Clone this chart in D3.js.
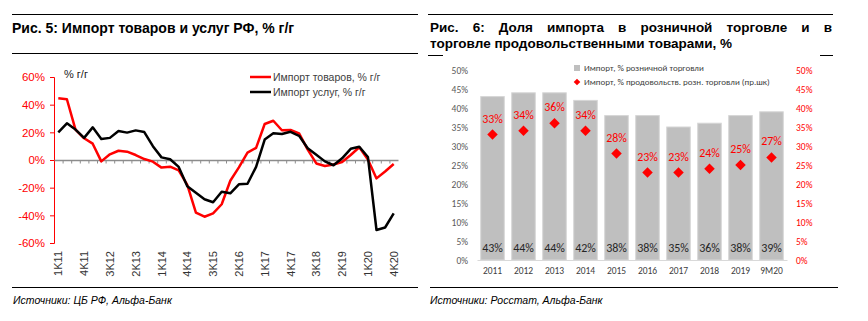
<!DOCTYPE html>
<html><head><meta charset="utf-8">
<script src="https://cdn.jsdelivr.net/npm/d3@7"></script>
<style>body{margin:0;background:#fff}svg{display:block}</style>
</head><body>
<svg id="c" width="868" height="321"></svg>
<script>
// ---- Left chart data ----
const quarters = ["1K11","2K11","3K11","4K11","1K12","2K12","3K12","4K12","1K13","2K13","3K13","4K13",
 "1K14","2K14","3K14","4K14","1K15","2K15","3K15","4K15","1K16","2K16","3K16","4K16",
 "1K17","2K17","3K17","4K17","1K18","2K18","3K18","4K18","1K19","2K19","3K19","4K19",
 "1K20","2K20","3K20","4K20"];
const shownQuarterLabels = ["1K11","4K11","3K12","2K13","1K14","4K14","3K15","2K16","1K17","4K17","3K18","2K19","1K20","4K20"];
const goodsImport = [44.6,43.9,22,15.7,11.8,-1,4.1,6.7,6.0,3.6,0.7,-1.2,-5.5,-4.8,-7.5,-18,-38,-41,-38.6,-32,
 -15,-5.3,5.3,8.8,26,28.4,21.5,21.7,19.3,7.5,-2.5,-4.3,-3.2,-1.5,3.6,9.2,0.3,-13.3,-8.3,-2.9];
const servicesImport = [20,26.5,22,16,23.6,15.2,16,21,19.8,21.4,20.2,10,1.9,0.5,-5,-19,-23.6,-28.4,-30.5,-23,
 -24.1,-17.6,-17.2,-5,14.8,19.3,18.8,20.4,17.5,8.5,3.8,-1,-3.8,1.2,8.1,9.6,2.2,-50.6,-48.8,-38.6];
const leftTicks = [-60,-40,-20,0,20,40,60];
const leftSeriesNames = ["Импорт товаров, % г/г","Импорт услуг, % г/г"];

// ---- Right chart data ----
const years = ["2011","2012","2013","2014","2015","2016","2017","2018","2019","9M20"];
const retailShare = [43,44,44,42,38,38,35,36,38,39];
const foodShare = [33,34,36,34,28,23,23,24,25,27];
const rightTicks = [0,5,10,15,20,25,30,35,40,45,50];
const rightSeriesNames = ["Импорт, % розничной торговли","Импорт, % продовольств. розн. торговли (пр.шк)"];

const svg = d3.select("#c");
svg.append("rect").attr("width",868).attr("height",321).attr("fill","#fff");

const narrow = "'Liberation Sans Narrow','Arial Narrow','Liberation Sans',Arial,sans-serif";
const arial = "'Liberation Sans',Arial,sans-serif";
const calib = "Carlito,Calibri,Lato,'Open Sans',sans-serif";

// ---- Headers ----
function hline(x1,x2,y){svg.append("line").attr("x1",x1).attr("x2",x2).attr("y1",y).attr("y2",y).attr("stroke","#000").attr("stroke-width",1);}
hline(12,418,14.5); hline(12,418,53.5);
hline(428,833,14.5); hline(428,443,55.5); hline(820,833,55.5);
hline(12,418,287.5); hline(430,838,287.5);

svg.append("text").attr("x",12).attr("y",33).attr("font-family",arial).attr("font-weight","bold")
  .attr("font-size",14).attr("fill","#000").text("Рис. 5: Импорт товаров и услуг РФ, % г/г");

// justified line 1 of right title
(function(){
  const words = "Рис. 6: Доля импорта в розничной торговле и в".split(" ");
  const x0 = 430, x1 = 832, y = 32;
  const nodes = words.map(w => svg.append("text").attr("y",y).attr("font-family",arial)
     .attr("font-weight","bold").attr("font-size",13.5).attr("fill","#000").text(w));
  const widths = nodes.map(n => n.node().getComputedTextLength());
  const gap = (x1 - x0 - d3.sum(widths)) / (words.length - 1);
  let x = x0;
  nodes.forEach((n,i) => { n.attr("x", x); x += widths[i] + gap; });
})();
svg.append("text").attr("x",430).attr("y",47.5).attr("font-family",arial).attr("font-weight","bold")
  .attr("font-size",13.5).attr("fill","#000").text("торговле продовольственными товарами, %");

svg.append("text").attr("x",13).attr("y",304).attr("font-family",arial).attr("font-style","italic")
  .attr("font-size",10.5).attr("fill","#000").text("Источники: ЦБ РФ, Альфа-Банк");
svg.append("text").attr("x",430).attr("y",304).attr("font-family",arial).attr("font-style","italic")
  .attr("font-size",10.5).attr("fill","#000").text("Источники: Росстат, Альфа-Банк");

// ---- Left chart ----
const xL = d3.scaleBand().domain(quarters).range([54,398]);
const yL = d3.scaleLinear().domain([-60,60]).range([243,77]);
const gL = svg.append("g");

// y axis
const yAxisL = d3.axisLeft(yL).tickValues(leftTicks).tickSize(4).tickPadding(5).tickFormat(d => d + "%");
const ya = gL.append("g").attr("transform","translate(54,0)").call(yAxisL);
ya.select(".domain").attr("stroke","#ff0000").attr("stroke-width",1);
ya.selectAll(".tick line").attr("stroke","#ff0000");
ya.selectAll(".tick text").attr("fill","#ff0000").attr("font-family",narrow).attr("font-size",11.5);

// zero line with ticks at band boundaries
const xa = gL.append("g").attr("transform",`translate(0,${yL(0)})`)
  .call(d3.axisBottom(xL).tickSize(0).tickFormat(""));
xa.select(".domain").attr("stroke","#8c8c8c").attr("stroke-width",1.6);
gL.selectAll(".bt").data(quarters.slice(1)).join("line")
  .attr("x1",d => xL(d)+0.5).attr("x2",d => xL(d)+0.5)
  .attr("y1",yL(0)).attr("y2",yL(0)+3.5).attr("stroke","#8c8c8c").attr("stroke-width",1);

// rotated x labels
gL.selectAll(".xl").data(shownQuarterLabels).join("text")
  .attr("transform",d => `translate(${xL(d)+xL.bandwidth()/2+4},251) rotate(-90)`)
  .attr("text-anchor","end").attr("font-family",narrow).attr("font-size",11).attr("fill","#333").text(d => d);

const lineL = d3.line().x((d,i) => xL(quarters[i]) + xL.bandwidth()/2).y(d => yL(d));
gL.append("path").datum(goodsImport).attr("d",lineL).attr("fill","none").attr("stroke","#ff0000").attr("stroke-width",2.5).attr("stroke-linejoin","round");
gL.append("path").datum(servicesImport).attr("d",lineL).attr("fill","none").attr("stroke","#000").attr("stroke-width",2.5).attr("stroke-linejoin","round");

gL.append("text").attr("x",64).attr("y",78).attr("font-family",narrow).attr("font-size",11).attr("fill","#222").text("% г/г");

// legend
[["#ff0000",77],["#000",92]].forEach((c,i) => {
  gL.append("line").attr("x1",250).attr("x2",271).attr("y1",c[1]).attr("y2",c[1]).attr("stroke",c[0]).attr("stroke-width",2.5);
  gL.append("text").attr("x",273).attr("y",c[1]+3.5).attr("font-family",narrow).attr("font-size",10.5).attr("fill","#404040").text(leftSeriesNames[i]);
});

// ---- Right chart ----
const xR = d3.scaleBand().domain(years).range([477,787]).paddingInner(0.24).paddingOuter(0.12);
const yR = d3.scaleLinear().domain([0,50]).range([260,70]);
const gR = svg.append("g");

const yAxR = gR.append("g").attr("transform","translate(470,0)")
  .call(d3.axisLeft(yR).tickValues(rightTicks).tickSize(0).tickPadding(2).tickFormat(d => d + "%"));
yAxR.select(".domain").remove();
yAxR.selectAll("text").attr("fill","#595959").attr("font-family",calib).attr("font-size",9.5);

const yAxR2 = gR.append("g").attr("transform","translate(794,0)")
  .call(d3.axisRight(yR).tickValues(rightTicks).tickSize(0).tickPadding(2).tickFormat(d => d + "%"));
yAxR2.select(".domain").remove();
yAxR2.selectAll("text").attr("fill","#ff0000").attr("font-family",calib).attr("font-size",9.5);

gR.selectAll(".bar").data(retailShare).join("rect")
  .attr("x",(d,i) => xR(years[i])).attr("width",xR.bandwidth())
  .attr("y",d => yR(d)).attr("height",d => yR(0)-yR(d))
  .attr("fill","#bfbfbf").attr("stroke","#d6d6d6").attr("stroke-width",1);

const xAxR = gR.append("g").attr("transform",`translate(0,${yR(0)})`)
  .call(d3.axisBottom(xR).tickSize(0).tickPadding(7));
xAxR.select(".domain").attr("stroke","#d9d9d9").attr("stroke-width",1);
xAxR.selectAll("text").attr("fill","#404040").attr("font-family",calib).attr("font-size",9.5);

gR.selectAll(".bl").data(retailShare).join("text")
  .attr("x",(d,i) => xR(years[i]) + xR.bandwidth()/2).attr("y",yR(0)-8)
  .attr("text-anchor","middle").attr("font-family",calib).attr("font-size",12).attr("fill","#262626")
  .text(d => d + "%");

const diamond = d3.symbol().type(d3.symbolDiamond2).size(70);
gR.selectAll(".dm").data(foodShare).join("path")
  .attr("transform",(d,i) => `translate(${xR(years[i]) + xR.bandwidth()/2},${yR(d)})`)
  .attr("d",diamond).attr("fill","#ff0000");
gR.selectAll(".dl").data(foodShare).join("text")
  .attr("x",(d,i) => xR(years[i]) + xR.bandwidth()/2).attr("y",(d,i) => yR(d)-12)
  .attr("text-anchor","middle").attr("font-family",calib).attr("font-size",12).attr("fill","#ff0000")
  .text(d => d + "%");

// legend
gR.append("rect").attr("x",574).attr("y",65).attr("width",6).attr("height",6).attr("fill","#bfbfbf");
gR.append("text").attr("x",584).attr("y",71).attr("font-family",calib).attr("font-size",9).attr("fill","#404040").text(rightSeriesNames[0]);
gR.append("path").attr("transform","translate(577,82)").attr("d",d3.symbol().type(d3.symbolDiamond2).size(28)).attr("fill","#ff0000");
gR.append("text").attr("x",584).attr("y",85).attr("font-family",calib).attr("font-size",9).attr("fill","#404040").text(rightSeriesNames[1]);
</script>
</body></html>
